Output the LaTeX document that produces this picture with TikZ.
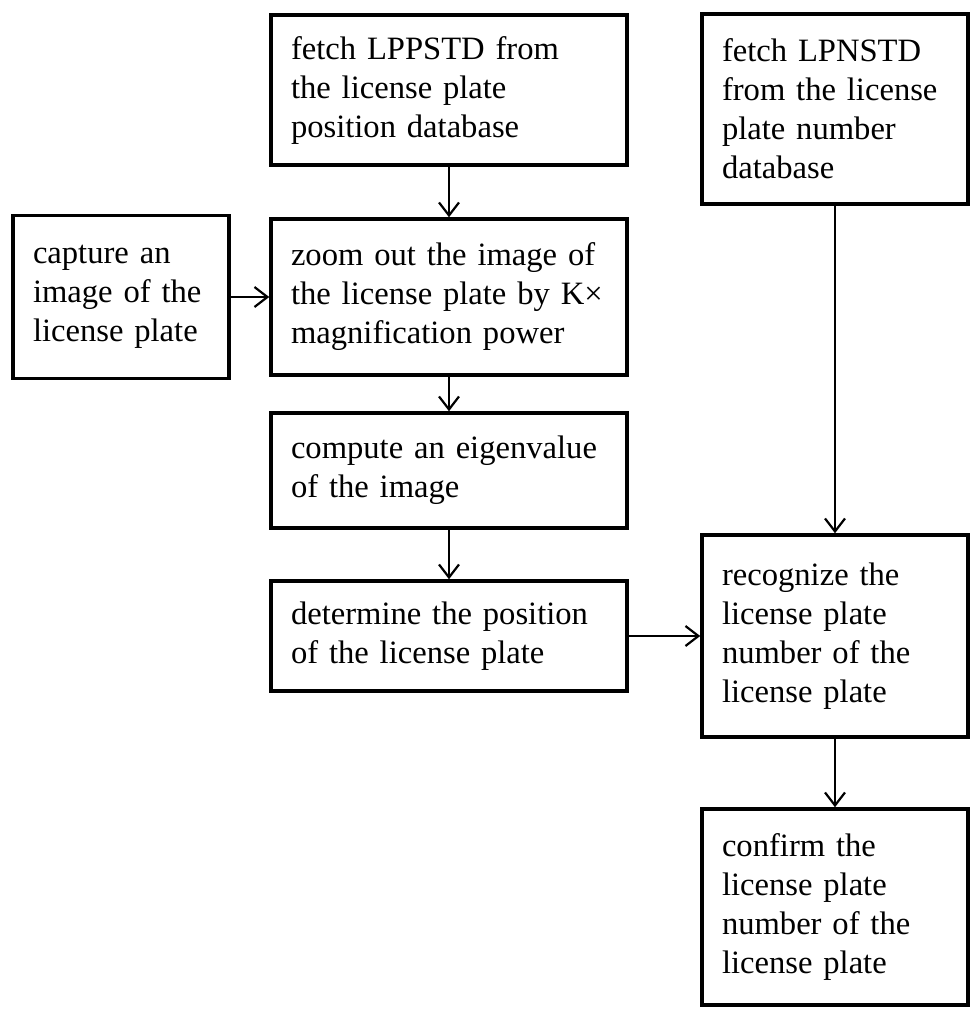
\documentclass[tikz,border=0pt]{standalone}
\usepackage{fontspec}
\setmainfont{Liberation Serif}
\usetikzlibrary{arrows.meta, positioning}

\tikzset{
  stepbox/.style={draw, line width=3.5pt, align=left, inner xsep=20pt, inner ysep=0pt,
    font=\fontsize{32.6}{39}\selectfont},
  midbox/.style={stepbox, minimum width=356pt, text width=316pt},
  rightbox/.style={stepbox, minimum width=266pt, text width=226pt},
  flow/.style={line width=2pt, -{Straight Barb[length=13pt, width=20pt, line width=2.2pt]}}
}

\begin{document}
\begin{tikzpicture}[x=1pt, y=-1pt]
    \useasboundingbox (0,0) rectangle (970,1012);

    % --- Left box ---
    \node[stepbox, minimum width=216pt, minimum height=163pt, text width=176pt] (capture) at (121,297)
      {capture an\\image of the\\license plate};

    % --- Middle column ---
    \node[midbox, minimum height=150pt] (fetchpos) at (449,90)
      {fetch LPPSTD from\\the license plate\\position database};
    \node[midbox, minimum height=156pt] (zoomout) at (449,297)
      {zoom out the image of\\the license plate by K×\\magnification power};
    \node[midbox, minimum height=115pt] (eigen) at (449,470.5)
      {compute an eigenvalue\\of the image};
    \node[midbox, minimum height=110pt] (position) at (449,636)
      {determine the position\\of the license plate};

    % --- Right column ---
    \node[rightbox, minimum height=190pt] (fetchnum) at (835,109)
      {fetch LPNSTD\\from the license\\plate number\\database};
    \node[rightbox, minimum height=202pt] (recognize) at (835,636)
      {recognize the\\license plate\\number of the\\license plate};
    \node[rightbox, minimum height=196pt] (confirm) at (835,907)
      {confirm the\\license plate\\number of the\\license plate};

    % --- Connectors ---
    \draw[flow] (capture) -- (zoomout);
    \draw[flow] (fetchpos) -- (zoomout);
    \draw[flow] (zoomout) -- (eigen);
    \draw[flow] (eigen) -- (position);
    \draw[flow] (position) -- (recognize);
    \draw[flow] (fetchnum) -- (recognize);
    \draw[flow] (recognize) -- (confirm);
\end{tikzpicture}
\end{document}
